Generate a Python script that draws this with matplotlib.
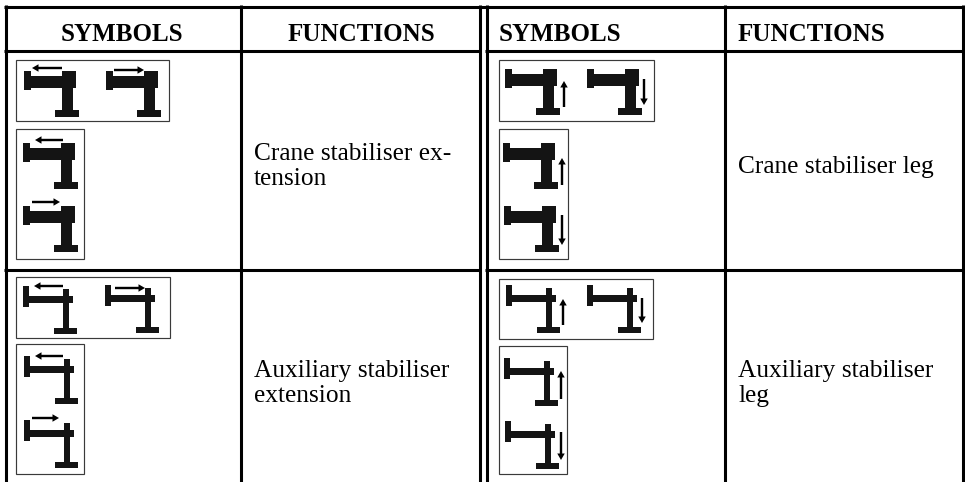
import matplotlib
matplotlib.use('Agg')
import matplotlib.pyplot as plt
from matplotlib.patches import Rectangle

plt.rcParams['font.family'] = ['Liberation Serif', 'DejaVu Serif']

headers = ['SYMBOLS', 'FUNCTIONS', 'SYMBOLS', 'FUNCTIONS']
functions_crane_ext = ['Crane stabiliser ex-', 'tension']
functions_crane_leg = ['Crane stabiliser leg']
functions_aux_ext = ['Auxiliary stabiliser', 'extension']
functions_aux_leg = ['Auxiliary stabiliser', 'leg']

# symbol parts, (x, y, w, h) relative to top left of the end block
heavy_parts = [(0, 0, 7, 19), (7, 5, 45, 12), (38, 0, 14, 5), (38, 17, 11, 22), (31, 39, 24, 7)]
light_parts = [(0, 0, 6, 21), (6, 10, 44, 7), (40, 3, 6, 39), (31, 42, 23, 6)]

ink = '#141414'


def symbol(ax, x, y, parts):
    for px, py, w, h in parts:
        ax.add_patch(Rectangle((x + px, y + py), w, h, facecolor=ink, edgecolor='none'))


def box(ax, x0, y0, x1, y1):
    ax.add_patch(Rectangle((x0, y0), x1 - x0, y1 - y0, fill=False, edgecolor='#3a3a3a', linewidth=0.85))


def arrow(ax, x0, y0, x1, y1):
    ax.arrow(x0, y0, x1 - x0, y1 - y0, width=2.4, head_width=7.5, head_length=6.5,
             length_includes_head=True, facecolor='black', edgecolor='none')


fig = plt.figure(figsize=(9.65, 4.82), dpi=100)
ax = fig.add_axes([0, 0, 1, 1])
ax.set_xlim(0, 965)
ax.set_ylim(482, 0)
ax.axis('off')

# grid lines
lw = 2.2
ax.plot([4, 964], [6.5, 6.5], color='black', lw=lw, solid_capstyle='butt')
for y in [51, 269.5]:
    ax.plot([4, 481], [y, y], color='black', lw=lw, solid_capstyle='butt')
    ax.plot([485, 964], [y, y], color='black', lw=lw, solid_capstyle='butt')
for x in [5.5, 240.5, 479.5, 486.5, 724.5, 962.5]:
    ax.plot([x, x], [5, 482], color='black', lw=lw, solid_capstyle='butt')

# top left cell
box(ax, 16, 60, 169, 121)
box(ax, 16, 129, 84, 259)
for x, y in [(24, 71), (106, 71), (23, 143), (23, 206)]:
    symbol(ax, x, y, heavy_parts)
arrow(ax, 62, 68, 32, 68)
arrow(ax, 114, 70, 144, 70)
arrow(ax, 63, 140, 35, 140)
arrow(ax, 32, 202, 60, 202)

# top right cell
box(ax, 499, 60, 654, 121)
box(ax, 499, 129, 568, 259)
for x, y in [(505, 69), (587, 69), (503, 143), (504, 206)]:
    symbol(ax, x, y, heavy_parts)
arrow(ax, 564, 107, 564, 81)
arrow(ax, 644, 79, 644, 105)
arrow(ax, 562, 185, 562, 158)
arrow(ax, 562, 215, 562, 245)

# bottom left cell
box(ax, 16, 277, 170, 338)
box(ax, 16, 344, 84, 474)
for x, y in [(23, 286), (105, 285), (24, 356), (24, 420)]:
    symbol(ax, x, y, light_parts)
arrow(ax, 63, 286, 34, 286)
arrow(ax, 115, 288, 145, 288)
arrow(ax, 63, 356, 35, 356)
arrow(ax, 32, 418, 59, 418)

# bottom right cell
box(ax, 499, 279, 653, 339)
box(ax, 499, 346, 567, 474)
for x, y in [(506, 285), (587, 285), (504, 358), (505, 421)]:
    symbol(ax, x, y, light_parts)
arrow(ax, 563, 325, 563, 299)
arrow(ax, 642, 298, 642, 323)
arrow(ax, 561, 399, 561, 371)
arrow(ax, 561, 432, 561, 460)

# header text
ax.text(122, 41, headers[0], ha='center', va='baseline', fontsize=18, fontweight='bold')
ax.text(361, 41, headers[1], ha='center', va='baseline', fontsize=18, fontweight='bold')
ax.text(499, 41, headers[2], ha='left', va='baseline', fontsize=18, fontweight='bold')
ax.text(738, 41, headers[3], ha='left', va='baseline', fontsize=18, fontweight='bold')

# function text, one baseline per line
for lines, x, y in [(functions_crane_ext, 254, 160), (functions_crane_leg, 738, 173),
                    (functions_aux_ext, 254, 377), (functions_aux_leg, 738, 377)]:
    for i, line in enumerate(lines):
        ax.text(x, y + i * 25, line, ha='left', va='baseline', fontsize=18.3, color='black')

plt.savefig('out.png', dpi=100)
